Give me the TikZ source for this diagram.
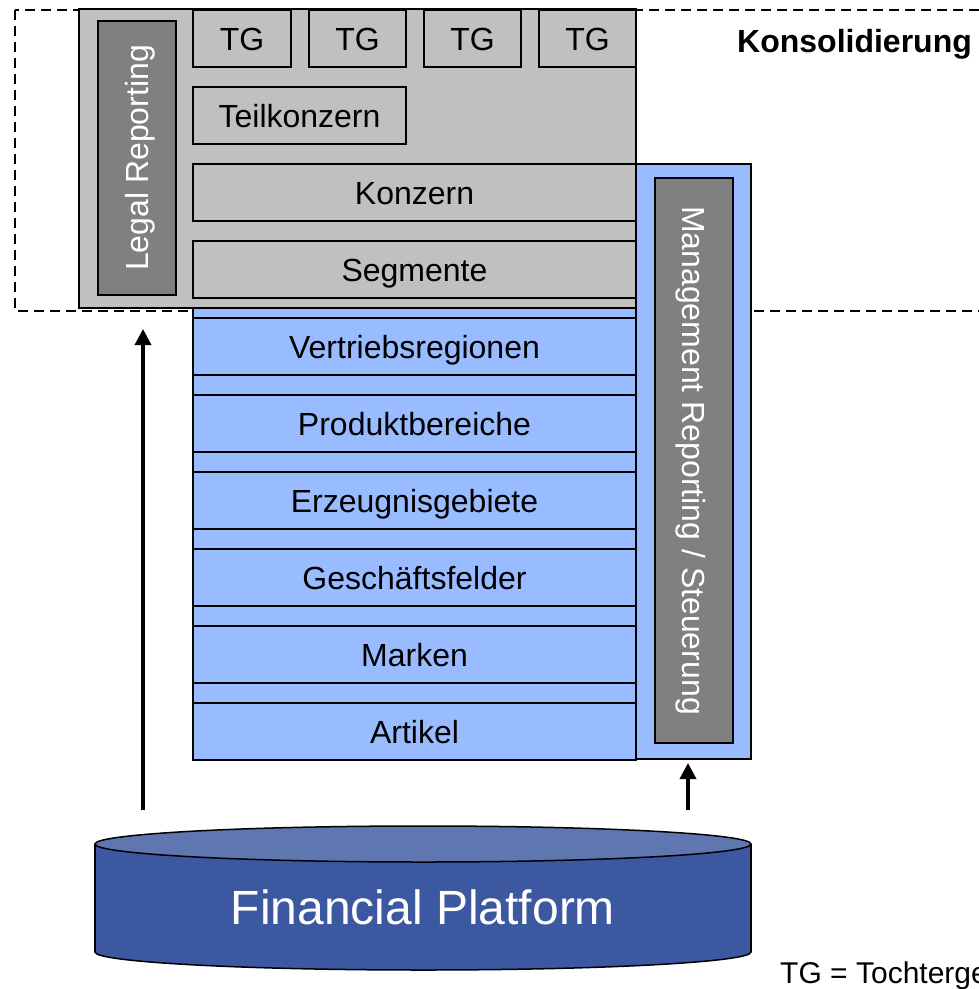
\documentclass[tikz,border=0pt]{standalone}
\usepackage{fontspec}
\setmainfont{Liberation Sans}
\usetikzlibrary{arrows.meta}
\definecolor{panelgray}{HTML}{C0C0C0}
\definecolor{darkfill}{HTML}{808080}
\definecolor{layerblue}{HTML}{99BBFF}
\definecolor{cylbody}{HTML}{3C58A0}
\definecolor{cyltop}{HTML}{6076B0}
\begin{document}
\begin{tikzpicture}[x=1pt,y=-1pt,
  box/.style={draw=black, line width=1.3pt, inner sep=0pt, outer sep=0pt,
    font=\fontsize{32}{38}\selectfont, text height=23pt, text depth=0pt},
  graybox/.style={box, fill=panelgray},
  bluebox/.style={box, fill=layerblue},
  darkbox/.style={box, fill=darkfill, text=white},
  dashframe/.style={draw=black, line width=2.5pt, dash pattern=on 10pt off 6pt},
  arr/.style={line width=3.5pt, -{Triangle[length=16pt,width=16pt]}},
  cylline/.style={draw=black, line width=1.5pt},
]
\useasboundingbox (0,0) rectangle (979,989);

% dashed consolidation frame
\draw[dashframe] (15,10) rectangle (1020,311);

% blue background of the layer stack
\node[bluebox, minimum width=443, minimum height=469] (stack) at (414.5,524.5) {};

% gray legal panel
\node[graybox, minimum width=557, minimum height=299] (gray) at (357.5,158.5) {};
\node[darkbox, rotate=90, minimum width=274, minimum height=78] (legal) at (137,158) {Legal Reporting};

% top gray rows
\node[graybox, minimum width=98, minimum height=57] (tg1) at (242,38.5) {TG};
\node[graybox, minimum width=97, minimum height=57] (tg2) at (357.5,38.5) {TG};
\node[graybox, minimum width=97, minimum height=57] (tg3) at (472.5,38.5) {TG};
\node[graybox, minimum width=97, minimum height=57] (tg4) at (587.5,38.5) {TG};
\node[graybox, minimum width=213, minimum height=57] (teil) at (299.5,115.5) {Teilkonzern};
\node[graybox, minimum width=443, minimum height=57] (konzern) at (414.5,192.5) {Konzern};
\node[graybox, minimum width=443, minimum height=57] (segm) at (414.5,269.5) {Segmente};

% blue rows
\node[bluebox, minimum width=443, minimum height=57] (vertrieb) at (414.5,346.5) {Vertriebsregionen};
\node[bluebox, minimum width=443, minimum height=57] (produkt) at (414.5,423.5) {Produktbereiche};
\node[bluebox, minimum width=443, minimum height=57] (erzeug) at (414.5,500.5) {Erzeugnisgebiete};
\node[bluebox, minimum width=443, minimum height=57] (geschaeft) at (414.5,577.5) {Geschäftsfelder};
\node[bluebox, minimum width=443, minimum height=57] (marken) at (414.5,654.5) {Marken};
\node[bluebox, minimum width=443, minimum height=57] (artikel) at (414.5,731.5) {Artikel};

% management panel
\node[bluebox, minimum width=115, minimum height=595] (mgmt) at (693.5,461.5) {};
\node[darkbox, rotate=-90, minimum width=565, minimum height=78] (mgmtin) at (694,460.5) {Management Reporting / Steuerung};

% labels
\node[anchor=base west, inner sep=0pt, font=\fontsize{32}{38}\selectfont\bfseries] (kons) at (737,52) {Konsolidierung};
\node[anchor=base west, inner sep=0pt, font=\fontsize{30}{36}\selectfont] (legend) at (780,983) {TG = Tochtergesellschaft};

% cylinder: Financial Platform
\fill[cylbody] (95,844) rectangle (751,952);
\fill[cylbody] (423,952) ellipse [x radius=328, y radius=18];
\begin{scope}
  \clip (0,952) rectangle (979,989);
  \draw[cylline] (423,952) ellipse [x radius=328, y radius=18];
\end{scope}
\draw[cylline] (95,844) -- (95,952);
\draw[cylline] (751,844) -- (751,952);
\draw[cylline, fill=cyltop] (423,844) ellipse [x radius=328, y radius=18];
\node[inner sep=0pt, text=white, font=\fontsize{48}{58}\selectfont] (fp) at (423,907) {Financial Platform};

% arrows
\coordinate (la) at (143,810);
\coordinate (ra) at (688,810);
\draw[arr, shorten >=21pt] (la) -- (la |- gray.south);
\draw[arr, shorten >=4pt] (ra) -- (ra |- mgmt.south);
\end{tikzpicture}
\end{document}
